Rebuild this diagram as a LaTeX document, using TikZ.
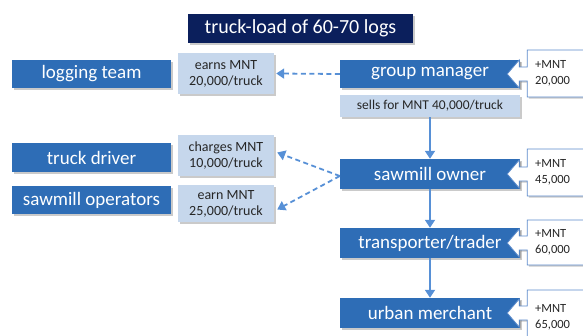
\documentclass[tikz,border=0pt]{standalone}
\usepackage{fontspec}
\setmainfont{Carlito}
\usetikzlibrary{arrows.meta,shadows,calc}

\definecolor{navy}{HTML}{0B1F5C}
\definecolor{actor}{HTML}{2E6DB6}
\definecolor{note}{HTML}{C6D7EC}
\definecolor{flow}{HTML}{5790D6}
\definecolor{edge}{HTML}{5B8ACB}

\tikzset{
  shade/.style={drop shadow={shadow xshift=1.6pt,shadow yshift=-1.6pt,opacity=0.35,fill=black!60}},
  actorbox/.style={fill=actor,text=white,font=\fontsize{19}{21}\selectfont,inner sep=0pt,shade},
  notebox/.style={fill=note,text=black!85,font=\fontsize{14}{16}\selectfont,align=center,inner sep=0pt,shade},
  gaintext/.style={anchor=west,align=left,font=\fontsize{12.5}{15.5}\selectfont,text=black!85,inner sep=0pt},
  flowarrow/.style={draw=flow,line width=1.8pt,-{Triangle[length=8pt,width=10pt]}},
  paidarrow/.style={draw=flow,line width=1.8pt,dash pattern=on 5pt off 3.5pt,-{Triangle[length=8pt,width=10pt]}},
  calloutline/.style={draw=edge,line width=0.8pt,fill=white,shade},
}

% white box with a left-pointing arrow into a role box
% #1 = role node, #2 = top, #3 = bottom, #4 = name, #5 = amount
\newcommand\gaincallout[5]{%
  \path (#1.east) ++(-13,0) coordinate (#4tip);
  \path[calloutline] (#4tip) -- ++(12,-14) -- ++(0,7) -- ++(8,0) |- (620,#2) -- (620,#3) -| ($(#4tip)+(20,7)$) -- ++(-8,0) -- ++(0,7) -- cycle;
  \node[gaintext] (#4) at (535,{(#2+#3)/2}) {+MNT\\#5};
}

\begin{document}
\begin{tikzpicture}[x=1pt,y=-1pt]
  \useasboundingbox (0,0) rectangle (583,335);
  \clip (0,0) rectangle (583,335);

  % title
  \node[fill=navy,text=white,minimum width=225,minimum height=29,inner sep=0pt,
        font=\fontsize{20}{22}\selectfont,shade] (title) at (300.5,28.5) {truck-load of 60-70 logs};

  % left column: who is paid
  \node[actorbox,minimum width=159,minimum height=28] (logging) at (91.5,74) {logging team};
  \node[actorbox,minimum width=159,minimum height=29] (driver) at (91.5,157.5) {truck driver};
  \node[actorbox,minimum width=159,minimum height=28] (operators) at (91.5,200) {sawmill operators};

  \node[notebox,minimum width=96,minimum height=41] (earns) at (226,73.5) {earns MNT\\20,000/truck};
  \node[notebox,minimum width=96,minimum height=41] (charges) at (226,155.5) {charges MNT\\10,000/truck};
  \node[notebox,minimum width=96,minimum height=37] (earn) at (226,203.5) {earn MNT\\25,000/truck};

  % right column: the chain of sellers
  \node[actorbox,minimum width=180,minimum height=28] (manager) at (430,74) {group manager};
  \node[notebox,minimum width=180,minimum height=22,font=\fontsize{13.5}{15}\selectfont] (sells) at (430,106) {sells for MNT 40,000/truck};
  \node[actorbox,minimum width=180,minimum height=30] (owner) at (430,174) {sawmill owner};
  \node[actorbox,minimum width=180,minimum height=30] (trader) at (430,243) {transporter/trader};
  \node[actorbox,minimum width=180,minimum height=30] (merchant) at (430,313) {urban merchant};

  % flow of the logs
  \draw[flowarrow] (sells.south) -- (owner.north);
  \draw[flowarrow] (owner.south) -- (trader.north);
  \draw[flowarrow] (trader.south) -- (merchant.north);

  % payments
  \draw[paidarrow] (manager.west) -- ([xshift=2]earns.east);
  \draw[paidarrow] ([yshift=-2]owner.west) -- ([xshift=3,yshift=3]charges.east);
  \draw[paidarrow] ([yshift=-2]owner.west) -- ([xshift=3,yshift=-6]earn.east);

  % gains along the chain
  \gaincallout{manager}{50}{97}{gainA}{20,000}
  \gaincallout{owner}{149}{196}{gainB}{45,000}
  \gaincallout{trader}{220}{265}{gainC}{60,000}
  \gaincallout{merchant}{290}{345}{gainD}{65,000}
\end{tikzpicture}
\end{document}
